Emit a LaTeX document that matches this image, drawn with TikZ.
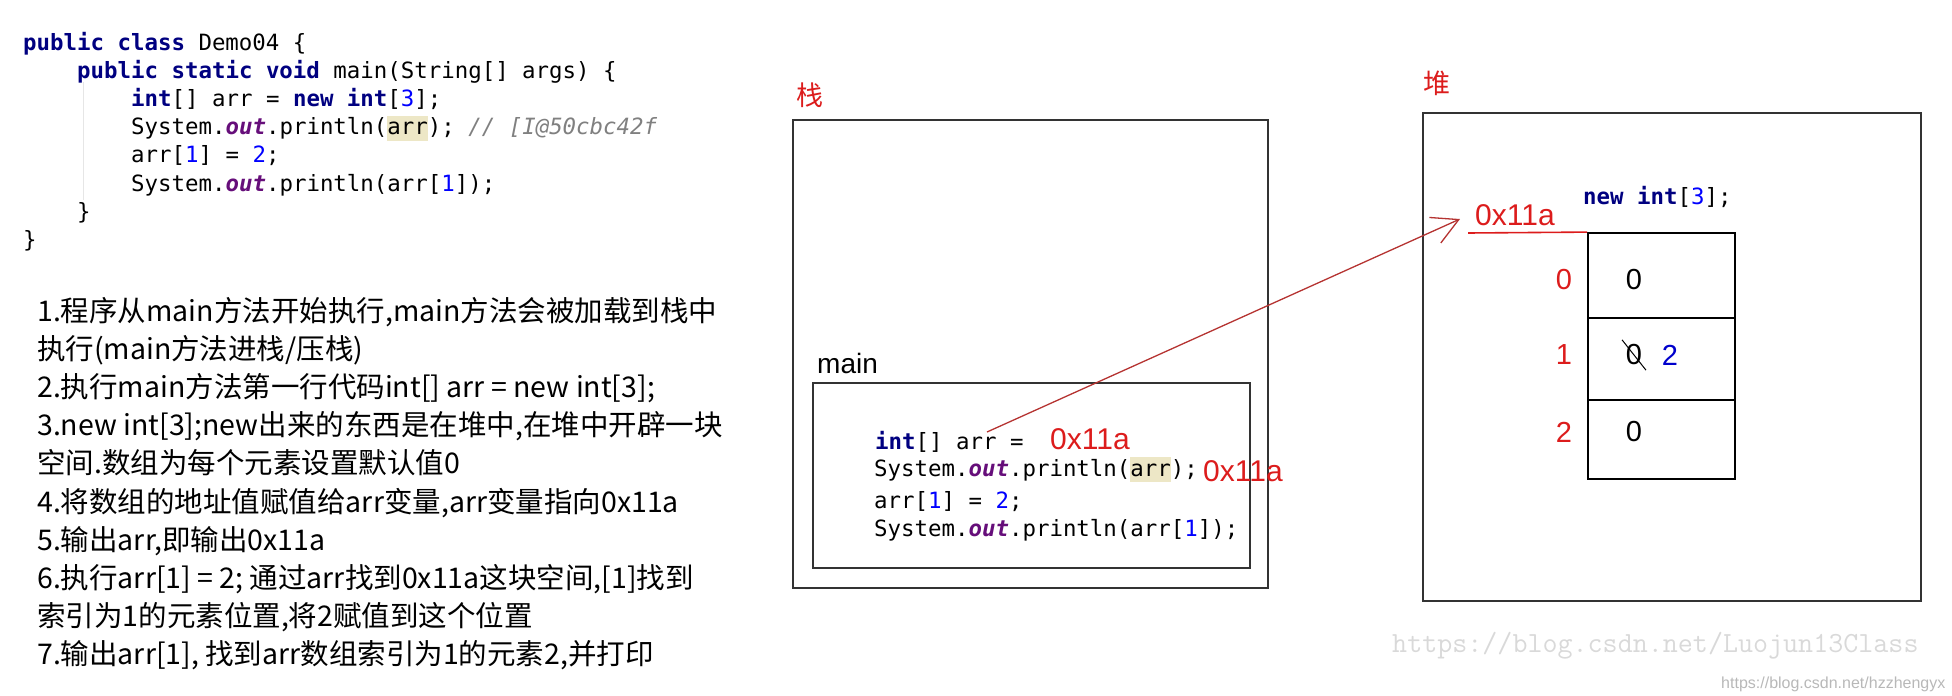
\documentclass[tikz,border=0pt]{standalone}
\usepackage{fontspec}
\setmainfont{Liberation Sans}
\newfontfamily\codefont{DejaVu Sans Mono}
\newfontfamily\cjkfont{Noto Sans CJK SC}
\usepackage{xcolor}
\usetikzlibrary{arrows.meta}
\definecolor{kwblue}{HTML}{000080}
\definecolor{fldpurple}{HTML}{660E7A}
\definecolor{numblue}{HTML}{0000FF}
\definecolor{cmtgray}{HTML}{808080}
\definecolor{hlyellow}{HTML}{EDE7C6}
\definecolor{memred}{HTML}{DC1C1C}
\definecolor{ptrred}{HTML}{B53331}
\definecolor{framegray}{HTML}{333333}
\definecolor{wmgray}{HTML}{D9D9D9}
\definecolor{guidegray}{HTML}{E6E6E6}
\newcommand{\codesize}{\fontsize{22.4}{27}\selectfont}
\newcommand{\jkw}[1]{{\bfseries\color{kwblue}#1}}
\newcommand{\jfld}[1]{{\bfseries\itshape\color{fldpurple}#1}}
\newcommand{\jnum}[1]{{\color{numblue}#1}}
\newcommand{\jcmt}[1]{{\itshape\color{cmtgray}#1}}
\newcommand{\jhl}[1]{{\setlength{\fboxsep}{0pt}\colorbox{hlyellow}{\rule[-6pt]{0pt}{25pt}#1}}}

\begin{document}
\begin{tikzpicture}[
  x=1pt, y=-1pt,
  frame/.style={draw=framegray,line width=2pt,inner sep=0pt},
  cell/.style={draw=black,line width=1.8pt,inner sep=0pt,minimum width=147pt},
  code/.style={font=\codefont\codesize,anchor=base west,inner sep=0pt},
  addr/.style={font=\fontsize{30}{36}\selectfont,text=memred,anchor=base west,inner sep=0pt},
  memlbl/.style={font=\cjkfont\fontsize{27}{32}\selectfont,text=memred,inner sep=0pt},
  digit/.style={font=\fontsize{29}{34}\selectfont,inner sep=0pt},
  note/.style={font=\cjkfont\fontsize{28.5}{34}\selectfont,anchor=base west,inner sep=0pt},
  wm/.style={text=wmgray,anchor=base west,inner sep=0pt},
  ptr/.style={-{Straight Barb[length=26pt,width=28pt]},draw=ptrred,line width=1.3pt},
  uline/.style={draw=memred,line width=1.6pt}]
  \useasboundingbox (0,0) rectangle (1952,696);

  % source code
  \draw[guidegray,line width=1pt] (83,82) -- (83,200);
  \node[code] (c1) at (23,50)    {\jkw{public} \jkw{class} Demo04 \{};
  \node[code] (c2) at (77,78.2)  {\jkw{public} \jkw{static} \jkw{void} main(String[] args) \{};
  \node[code] (c3) at (131,106.4) {\jkw{int}[] arr = \jkw{new} \jkw{int}[\jnum{3}];};
  \node[code] (c4) at (131,134.6) {System.\jfld{out}.println(\jhl{arr}); \jcmt{// [I@50cbc42f}};
  \node[code] (c5) at (131,162.8) {arr[\jnum{1}] = \jnum{2};};
  \node[code] (c6) at (131,191)  {System.\jfld{out}.println(arr[\jnum{1}]);};
  \node[code] (c7) at (77,219.2) {\}};
  \node[code] (c8) at (23,247.4) {\}};

  % explanation
  \foreach \txt [count=\i from 0] in {
      {1.程序从main方法开始执行,main方法会被加载到栈中},
      {执行(main方法进栈/压栈)},
      {2.执行main方法第一行代码int[] arr = new int[3];},
      {3.new int[3];new出来的东西是在堆中,在堆中开辟一块},
      {空间.数组为每个元素设置默认值0},
      {4.将数组的地址值赋值给arr变量,arr变量指向0x11a},
      {5.输出arr,即输出0x11a},
      {6.执行arr[1] = 2; 通过arr找到0x11a这块空间,[1]找到},
      {索引为1的元素位置,将2赋值到这个位置},
      {7.输出arr[1], 找到arr数组索引为1的元素2,并打印}}
    \node[note] (n\i) at (37,{321+\i*38.2}) {\txt};

  % stack
  \node[memlbl] (stacklbl) at (810,95.5) {栈};
  \node[frame,minimum width=475pt,minimum height=468pt] (stack) at (1030.5,354) {};
  \node[font=\fontsize{28}{34}\selectfont,anchor=base west,inner sep=0pt] (mainlbl) at (817,373) {main};
  \node[frame,minimum width=437pt,minimum height=185pt] (mainfr) at (1031.5,475.5) {};
  \node[code] (s1) at (875,449) {\jkw{int}[] arr =};
  \node[addr] (sa1) at (1050,449) {0x11a};
  \node[code] (s2) at (874,476) {System.\jfld{out}.println(\jhl{arr});};
  \node[addr] (sa2) at (1203,481) {0x11a};
  \node[code] (s3) at (874,508) {arr[\jnum{1}] = \jnum{2};};
  \node[code] (s4) at (874,536) {System.\jfld{out}.println(arr[\jnum{1}]);};

  % heap
  \node[memlbl] (heaplbl) at (1436.5,83.5) {堆};
  \node[frame,minimum width=498pt,minimum height=488pt] (heap) at (1672,357) {};
  \node[code] (newint) at (1583,204) {\jkw{new} \jkw{int}[\jnum{3}];};
  \node[addr] (haddr) at (1475,225) {0x11a};
  \node[cell,minimum height=85pt] (cell0) at (1661.5,275.5) {};
  \node[cell,minimum height=82pt] (cell1) at (1661.5,359) {};
  \node[cell,minimum height=79pt] (cell2) at (1661.5,439.5) {};
  \node[digit,text=memred] (i0) at (1564,280) {0};
  \node[digit,text=memred] (i1) at (1564,355) {1};
  \node[digit,text=memred] (i2) at (1564,432) {2};
  \node[digit] (v0) at (1634,280) {0};
  \node[digit] (v1old) at (1634,355) {0};
  \node[digit,text=numblue!80!black] (v1new) at (1670,355) {2};
  \node[digit] (v2) at (1634,432) {0};
  \draw[line width=1pt,shorten <=-6pt,shorten >=-6pt] (v1old.north west) -- (v1old.south east);

  % reference from arr to the array
  \coordinate (arrsrc) at (987,432);
  \coordinate (arrtip) at (1460,219);
  \draw[ptr] (arrsrc) -- (arrtip);
  \coordinate (addrul) at (1468,233);
  \draw[uline] (addrul) -- (cell0.north west);

  % watermarks
  \node[wm,font=\ttfamily\fontsize{29.2}{34}\selectfont] (wm1) at (1392,652) {https://blog.csdn.net/Luojun13Class};
  \node[wm,font=\fontsize{16}{19}\selectfont,text=wmgray!85!black] (wm2) at (1721,688) {https://blog.csdn.net/hzzhengyx};
\end{tikzpicture}
\end{document}
